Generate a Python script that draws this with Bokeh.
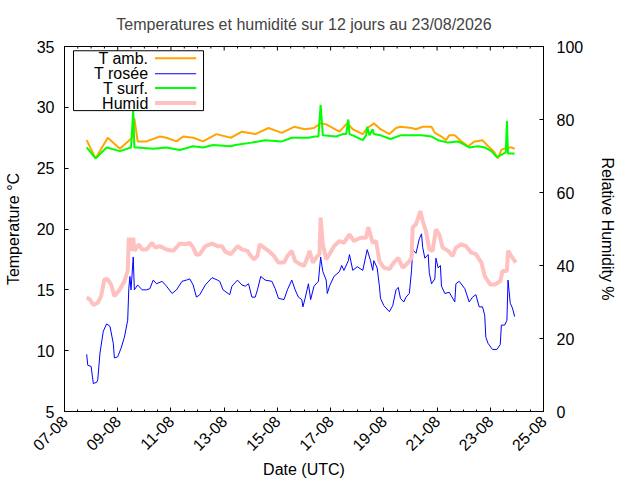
import pandas as pd
from math import pi
from bokeh.plotting import figure
from bokeh.models import (Range1d, LinearAxis, FixedTicker,
                          DatetimeTickFormatter, BoxAnnotation, Label, ColumnDataSource)
from bokeh.embed import file_html
from bokeh.resources import INLINE

# ---------------- data (hours after the reference time) ----------------
REF_TIME = "2026-08-07 01:00"

t_amb_hours = [19, 27, 38, 49, 60, 62, 65, 73, 85, 91, 100, 106, 115, 124, 136, 149, 159, 171, 183, 195,
               206, 216, 224, 230, 235, 247, 254, 259, 268, 272, 277, 278, 284, 292, 298, 302, 312, 316,
               322, 330, 333, 339, 343, 346, 351, 357, 363, 369, 376, 381, 386, 390, 393, 398, 402, 405]
t_amb = [27.3, 25.8, 27.5, 26.6, 27.5, 29.1, 27.2, 27.2, 27.6, 27.5, 27.2, 27.6, 27.5, 27.2, 27.8, 27.5,
         28.0, 27.8, 28.3, 27.9, 28.4, 28.2, 28.3, 28.7, 28.6, 28.0, 28.7, 28.2, 27.8, 28.3, 28.6, 28.7,
         28.2, 27.8, 28.3, 28.4, 28.3, 28.2, 28.4, 28.4, 27.9, 27.6, 27.3, 27.7, 27.7, 27.2, 26.8, 27.2,
         27.3, 26.8, 26.4, 25.8, 26.5, 26.7, 26.7, 26.6]

t_surf_hours = [19, 27, 37, 49, 59, 61, 62, 65, 79, 91, 103, 115, 124, 133, 149, 153, 168, 180, 195, 204,
                219, 225, 228, 230, 232, 244, 250, 253, 255, 256, 259, 268, 271, 272, 274, 277, 278, 284,
                293, 302, 321, 330, 336, 345, 354, 364, 372, 378, 384, 389, 395, 397, 398, 399, 402, 405]
t_surf = [26.7, 25.8, 26.7, 26.4, 26.7, 29.8, 26.7, 26.7, 26.6, 26.7, 26.5, 26.8, 26.7, 26.9, 26.8, 26.9,
          27.1, 27.3, 27.2, 27.5, 27.5, 27.6, 27.6, 30.2, 27.7, 27.6, 27.8, 27.8, 29.0, 27.8, 27.7, 27.3,
          27.7, 28.4, 27.7, 28.2, 27.8, 27.7, 27.4, 27.7, 27.7, 27.6, 27.3, 27.1, 27.2, 26.7, 26.8, 26.7,
          26.4, 25.9, 26.2, 26.3, 28.9, 26.2, 26.2, 26.2]

humid_hours = [19, 22, 25, 29, 32, 35, 38, 41, 44, 49, 53, 56, 57, 59, 61, 62, 66, 69, 73, 78, 81, 85, 91,
               97, 103, 108, 112, 115, 118, 121, 126, 132, 137, 141, 144, 149, 155, 159, 164, 167, 170,
               173, 175, 179, 183, 188, 192, 197, 200, 204, 207, 212, 215, 218, 220, 223, 227, 229, 230,
               232, 235, 238, 242, 247, 251, 256, 260, 266, 271, 273, 277, 280, 283, 287, 292, 296, 300,
               304, 309, 312, 313, 316, 320, 322, 325, 328, 331, 334, 337, 340, 345, 349, 352, 357, 361,
               366, 370, 375, 378, 383, 387, 392, 394, 398, 399, 402, 406]
humid = [31.2, 30.7, 29.2, 29.8, 31.6, 36.2, 36.2, 34.8, 31.6, 33.5, 35.7, 38.5, 47.6, 44.0, 47.6, 44.0,
         45.8, 44.4, 44.4, 46.2, 44.9, 45.3, 44.4, 44.0, 46.0, 45.8, 46.2, 44.9, 42.9, 43.1, 45.3, 46.0,
         45.3, 45.3, 43.8, 43.1, 45.3, 44.4, 44.0, 42.6, 41.7, 42.6, 45.8, 44.9, 44.0, 42.6, 40.8, 40.8,
         42.6, 44.0, 41.2, 40.3, 39.9, 42.1, 44.0, 40.8, 42.6, 43.1, 53.1, 45.8, 41.7, 43.1, 45.3, 46.7,
         46.2, 48.5, 46.7, 47.6, 47.6, 50.5, 46.2, 46.7, 41.2, 39.4, 39.0, 40.8, 42.1, 39.4, 40.8, 42.1,
         50.4, 51.3, 54.9, 52.2, 49.4, 44.4, 44.0, 49.9, 48.5, 44.9, 44.0, 42.6, 44.9, 45.8, 45.3, 43.5,
         43.1, 40.8, 37.1, 34.8, 34.8, 35.7, 38.5, 38.5, 44.0, 42.6, 40.8]

t_rosee_hours = [19, 20, 23, 25, 28, 29, 31, 34, 37, 40, 43, 44, 47, 50, 53, 56, 57, 58, 59, 61, 62, 65, 69,
                 73, 76, 79, 82, 87, 91, 96, 100, 105, 109, 112, 115, 118, 121, 126, 132, 137, 139, 142,
                 148, 150, 155, 159, 162, 165, 168, 171, 173, 176, 180, 186, 189, 192, 197, 200, 204, 207,
                 210, 213, 214, 216, 219, 221, 224, 228, 230, 232, 235, 236, 238, 242, 247, 249, 251, 255,
                 256, 259, 263, 268, 272, 275, 277, 278, 281, 283, 284, 287, 292, 295, 298, 300, 302, 305,
                 307, 310, 312, 313, 316, 319, 321, 322, 324, 327, 328, 330, 333, 334, 336, 338, 339, 342,
                 346, 351, 352, 355, 360, 364, 367, 370, 373, 376, 378, 379, 381, 385, 389, 392, 393, 396,
                 398, 399, 401, 403, 405]
t_rosee = [9.7, 8.8, 8.7, 7.3, 7.4, 7.6, 9.8, 11.6, 12.2, 12.0, 10.6, 9.4, 9.5, 10.2, 11.1, 12.5, 15.1,
           16.1, 15.0, 17.7, 15.0, 15.4, 15.0, 15.0, 15.1, 15.8, 15.5, 15.7, 15.3, 14.7, 15.0, 15.7, 15.8,
           15.9, 15.4, 14.4, 14.6, 15.4, 16.0, 15.8, 15.7, 15.0, 14.6, 15.3, 15.8, 15.4, 15.3, 15.5, 14.4,
           14.4, 15.0, 16.1, 15.8, 15.7, 15.1, 14.3, 14.2, 15.0, 15.8, 15.0, 14.4, 14.2, 13.6, 14.3, 15.5,
           14.2, 15.3, 15.7, 17.7, 16.5, 15.8, 14.7, 15.3, 16.1, 16.5, 17.0, 16.6, 17.4, 17.9, 16.6, 16.9,
           16.6, 18.3, 17.4, 16.6, 17.4, 16.8, 15.3, 14.3, 13.7, 13.2, 13.7, 15.0, 15.2, 14.3, 14.0, 14.4,
           14.7, 16.6, 18.3, 18.0, 19.2, 19.6, 18.5, 17.6, 17.9, 16.4, 15.5, 15.9, 17.6, 16.8, 17.0, 15.3,
           14.7, 14.8, 14.0, 15.5, 15.7, 15.1, 14.0, 14.4, 14.6, 13.6, 13.6, 12.9, 11.1, 10.6, 10.1, 10.1,
           10.5, 12.1, 12.1, 12.5, 15.8, 13.9, 13.5, 12.8]

x_start, x_end = "2026-08-07", "2026-08-25"
tick_dates = ["2026-08-07", "2026-08-09", "2026-08-11", "2026-08-13", "2026-08-15",
              "2026-08-17", "2026-08-19", "2026-08-21", "2026-08-23", "2026-08-25"]
temp_ticks = [5, 10, 15, 20, 25, 30, 35]
hum_ticks = [0, 20, 40, 60, 80, 100]

series_names = ["T amb.", "T rosée", "T surf.", "Humid"]
series_colors = ["#ffa500", "#0000ff", "#00ff00", "#ffc0c0"]
series_widths = [2, 1, 2, 4]

TITLE = "Temperatures et humidité sur 12 jours au 23/08/2026"
FONT = "Liberation Sans"
T_MIN, T_MAX = 5, 35

ref = pd.Timestamp(REF_TIME)


def to_time(hours):
    return [ref + pd.Timedelta(hours=h) for h in hours]


def ms(ts):
    return pd.Timestamp(ts).value / 1e6


p = figure(width=624, height=480, output_backend="svg", toolbar_location=None,
           x_axis_type="datetime", x_range=Range1d(ms(x_start), ms(x_end)),
           y_range=Range1d(T_MIN, T_MAX), min_border_left=64, min_border_right=81,
           min_border_top=45, min_border_bottom=68)
p.extra_y_ranges = {"hum": Range1d(0, 100)}

p.grid.visible = False
p.outline_line_color = "black"
p.outline_line_alpha = 1.0
p.background_fill_color = "white"
p.border_fill_color = "white"

p.title.text = TITLE
p.title.text_font = FONT
p.title.text_font_size = "16px"
p.title.text_font_style = "normal"
p.title.align = "center"
p.title.standoff = 27

major_ms = [ms(d) for d in tick_dates]
minor_ms = []
for i in range(len(major_ms) - 1):
    for k in range(1, 4):
        minor_ms.append(major_ms[i] + k * 12 * 3600 * 1000)
xticker = FixedTicker(ticks=major_ms, minor_ticks=minor_ms)
fmt = DatetimeTickFormatter(days="%d-%m", months="%d-%m", hours="%d-%m", years="%d-%m")


def style_axis(ax):
    ax.axis_line_color = "black"
    ax.major_tick_line_color = "black"
    ax.minor_tick_line_color = "black"
    ax.major_tick_in = 4
    ax.major_tick_out = 0
    ax.minor_tick_in = 2
    ax.minor_tick_out = 0
    ax.major_label_text_font = FONT
    ax.major_label_text_font_size = "16px"
    ax.major_label_text_color = "black"
    ax.axis_label_text_font = FONT
    ax.axis_label_text_font_size = "16px"
    ax.axis_label_text_font_style = "normal"
    ax.axis_label_text_color = "black"


xax = p.xaxis[0]
xax.ticker = xticker
xax.formatter = fmt
style_axis(xax)
xax.major_label_orientation = pi / 4
xax.major_label_standoff = 7
xax.axis_label = "Date (UTC)"
xax.axis_label_standoff = 2

yax = p.yaxis[0]
yax.ticker = FixedTicker(ticks=temp_ticks)
style_axis(yax)
yax.minor_tick_in = 0
yax.major_label_standoff = 10
yax.axis_label = "Temperature °C"
yax.axis_label_standoff = 12

yr = LinearAxis(y_range_name="hum", ticker=FixedTicker(ticks=hum_ticks),
                axis_label="Relative Humidity %")
style_axis(yr)
yr.minor_tick_in = 0
yr.major_label_standoff = 13
yr.axis_label_standoff = 13
p.add_layout(yr, "right")

day = 24 * 3600 * 1000
x0 = ms(x_start)

# mirrored inward ticks on the top border
p.scatter(major_ms, [T_MAX] * len(major_ms), marker="dash", size=8, angle=pi / 2,
          line_color="black", line_width=1)
p.scatter(minor_ms, [T_MAX] * len(minor_ms), marker="dash", size=4, angle=pi / 2,
          line_color="black", line_width=1)

# ---------------- series ----------------
src_amb = ColumnDataSource(dict(x=to_time(t_amb_hours), y=t_amb))
src_ros = ColumnDataSource(dict(x=to_time(t_rosee_hours), y=t_rosee))
src_surf = ColumnDataSource(dict(x=to_time(t_surf_hours), y=t_surf))
src_hum = ColumnDataSource(dict(x=to_time(humid_hours), y=humid))

p.line("x", "y", source=src_amb, color=series_colors[0], line_width=series_widths[0])
p.line("x", "y", source=src_ros, color=series_colors[1], line_width=series_widths[1])
p.line("x", "y", source=src_surf, color=series_colors[2], line_width=series_widths[2])
p.line("x", "y", source=src_hum, color=series_colors[3], line_width=series_widths[3],
       y_range_name="hum")

# ---------------- legend (label left of sample, gnuplot style) ----------------
leg_left, leg_right = x0 + 0.338 * day, x0 + 5.224 * day
leg_top, leg_bottom = 34.65, 29.73
row_y = [34.04, 32.76, 31.58, 30.35]
text_right = x0 + 3.15 * day
samp_l, samp_r = x0 + 3.40 * day, x0 + 4.95 * day

p.add_layout(BoxAnnotation(left=leg_left, right=leg_right, top=leg_top, bottom=leg_bottom,
                           fill_color="white", fill_alpha=1.0, line_color="black",
                           line_alpha=1.0, line_width=1, level="annotation"))
for name, col, w, yy in zip(series_names, series_colors, series_widths, row_y):
    p.add_layout(Label(x=text_right, y=yy, text=name, text_align="right",
                       text_baseline="middle", text_font=FONT, text_font_size="16px",
                       text_color="black", level="overlay"))
    p.line([samp_l, samp_r], [yy, yy], color=col, line_width=w, level="overlay")

open("out.html", "w").write(file_html(p, INLINE))
